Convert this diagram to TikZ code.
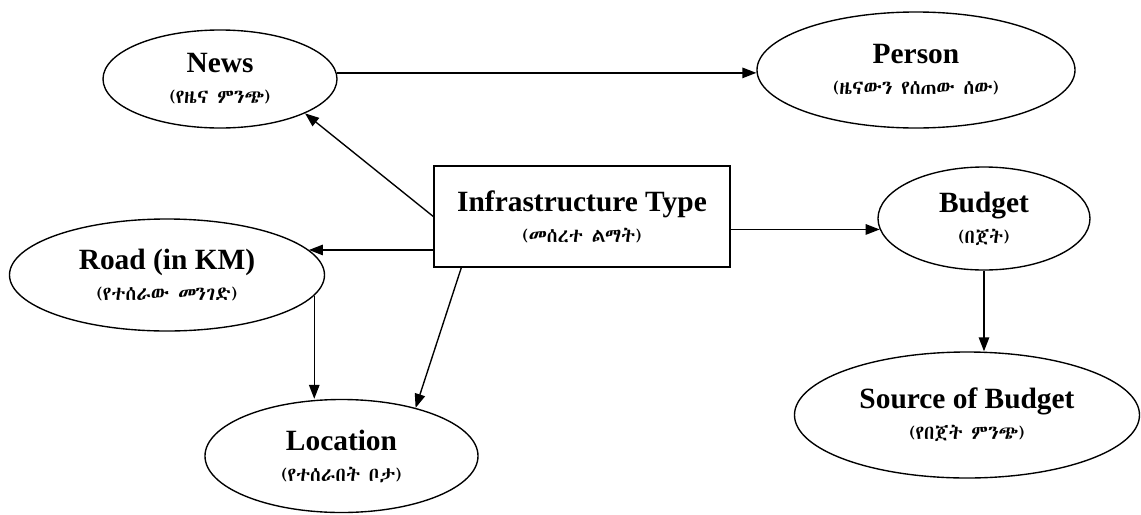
\documentclass[tikz,border=0pt]{standalone}
\usepackage{fontspec}
\setmainfont{Liberation Serif}
\IfFontExistsTF{Abyssinica SIL}{\newfontfamily\amh{Abyssinica SIL}}{%
  \IfFontExistsTF{Noto Sans Ethiopic}{\newfontfamily\amh{Noto Sans Ethiopic}}{\newfontfamily\amh{Noto Sans}}}
\usetikzlibrary{shapes.geometric,arrows.meta}
\newcommand{\amhsub}[1]{{\amh\fontsize{7.8}{12.4}\selectfont #1}}
\tikzset{
  ent/.style={ellipse, draw, line width=0.55pt, inner sep=0pt, align=center,
    font=\fontsize{11.76}{12.4}\selectfont},
  infbox/.style={rectangle, draw, line width=0.55pt, inner sep=0pt, align=center,
    font=\fontsize{11.76}{12.4}\selectfont},
  arr/.style={line width=0.55pt, -{Triangle[length=5.6pt,width=4.2pt]}},
}
\begin{document}
\begin{tikzpicture}[x=0.4pt, y=-0.4pt]
\useasboundingbox (0,0) rectangle (1141,514);
\node[ent, minimum width=93.6pt, minimum height=39.2pt] (news) at (220,79)
  {\textbf{News}\\\amhsub{(የዜና ምንጭ)}};
\node[ent, minimum width=127.2pt, minimum height=46.4pt] (person) at (916,70)
  {\textbf{Person}\\\amhsub{(ዜናውን የሰጠው ሰው)}};
\node[infbox, minimum width=118.4pt, minimum height=40.4pt] (infra) at (582,216.5)
  {\textbf{Infrastructure Type}\\\amhsub{(መሰረተ ልማት)}};
\node[ent, minimum width=84.8pt, minimum height=41.2pt] (budget) at (984,218.5)
  {\textbf{Budget}\\\amhsub{(በጀት)}};
\node[ent, minimum width=126pt, minimum height=44.8pt] (road) at (167,275)
  {\textbf{Road (in KM)}\\\amhsub{(የተሰራው መንገድ)}};
\node[ent, minimum width=138pt, minimum height=50.4pt] (source) at (967,415)
  {\textbf{Source of Budget}\\\amhsub{(የበጀት ምንጭ)}};
\node[ent, minimum width=109.2pt, minimum height=45.2pt] (location) at (341.5,456)
  {\textbf{Location}\\\amhsub{(የተሰራበት ቦታ)}};

\draw[arr] (news.3) -- (news.3 -| person.west);
\draw[arr] (infra.west) -- (news.-22);
\draw[arr] (infra.west |- road.10) -- (road.10);
\draw[arr] (infra.east |- budget.186) -- (budget.186);
\draw[arr] ([xshift=11.2pt]infra.south west) -- (location.33);
\draw[arr] (road.-8.5) -- (road.-8.5 |- location.north);
\draw[arr] (budget.south) -- (budget.south |- source.north);
\end{tikzpicture}
\end{document}
